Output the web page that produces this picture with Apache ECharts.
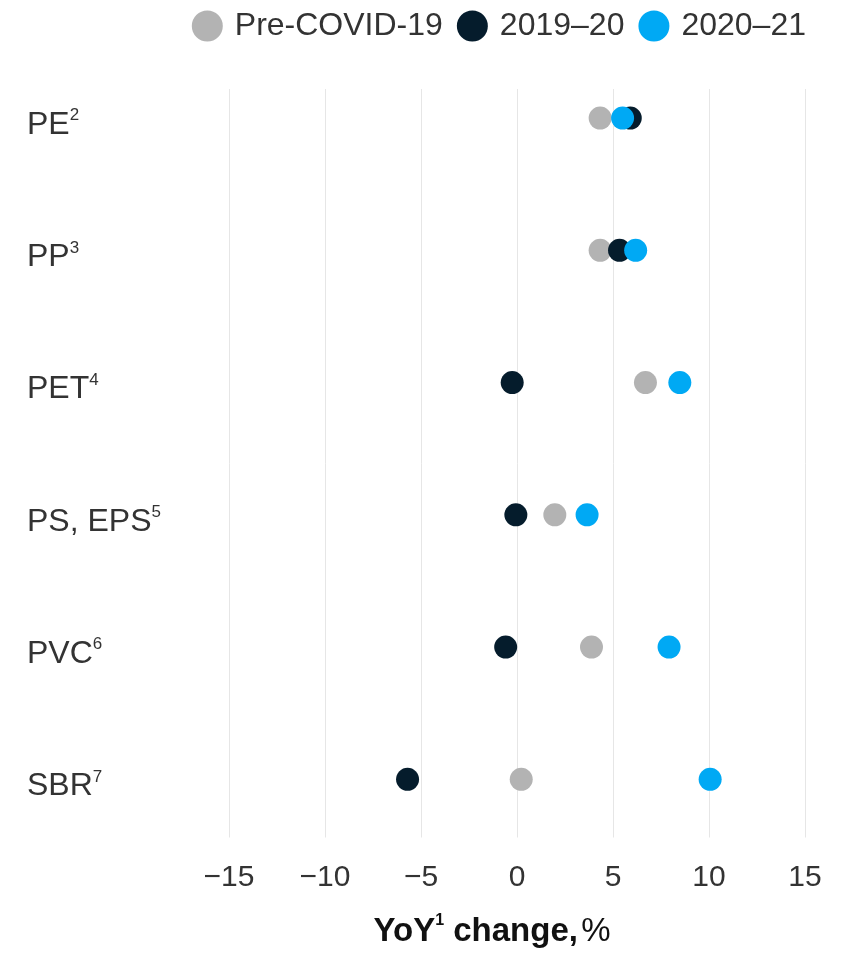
<!DOCTYPE html>
<html>
<head>
<meta charset="utf-8">
<script src="https://cdn.jsdelivr.net/npm/echarts@6/dist/echarts.min.js"></script>
<style>
  html, body { margin: 0; padding: 0; background: #fff; }
  #chart { width: 851px; height: 953px; }
</style>
</head>
<body>
<div id="chart"></div>
<script>
const categories = ["PE", "PP", "PET", "PS, EPS", "PVC", "SBR"];
const footnotes = ["2", "3", "4", "5", "6", "7"];
const seriesNames = ["Pre-COVID-19", "2019–20", "2020–21"];
const preCovid = [4.33, 4.33, 6.69, 1.97, 3.88, 0.22];
const y2019 = [5.9, 5.34, -0.25, -0.06, -0.59, -5.7];
const y2020 = [5.5, 6.18, 8.48, 3.65, 7.92, 10.06];
const colors = ["#b3b3b3", "#051c2c", "#00a9f4"];

const font = "'Liberation Sans', Arial, sans-serif";
const chart = echarts.init(document.querySelector("#chart"));

// rows sit on a value axis so the grid lines can run a bit past the first/last row
const toPoints = values => values.map((v, i) => [v, i]);
const rowIndex = categories.map((c, i) => i);

chart.setOption({
  animation: false,
  textStyle: { fontFamily: font },
  legend: {
    top: 5,
    right: 40,
    itemWidth: 31,
    itemHeight: 31,
    itemGap: 14,
    icon: "circle",
    textStyle: { fontSize: 32, color: "#333", fontFamily: font, padding: [0, 0, 0, 7] },
    data: seriesNames
  },
  grid: { left: 229, right: 46, top: 89, bottom: 111 },
  xAxis: {
    type: "value",
    min: -15,
    max: 15,
    interval: 5,
    axisLine: { show: false },
    axisTick: { show: false },
    splitLine: { show: true, lineStyle: { color: "#e6e6e6", width: 1 } },
    axisLabel: {
      fontSize: 30,
      color: "#333",
      margin: 25,
      formatter: v => String(v).replace("-", "−")
    },
    name: "{b|YoY}{s|1}{b| change,} {n|%}",
    nameLocation: "middle",
    nameGap: 75,
    nameTextStyle: {
      padding: [0, 50, 0, 0],
      rich: {
        b: { fontSize: 33, fontWeight: "bold", color: "#111", fontFamily: font, lineHeight: 38 },
        s: { fontSize: 16, fontWeight: "bold", color: "#111", fontFamily: font, verticalAlign: "top", lineHeight: 38 },
        n: { fontSize: 33, color: "#111", fontFamily: font, lineHeight: 38 }
      }
    }
  },
  yAxis: {
    type: "value",
    inverse: true,
    min: -0.22,
    max: 5.44,
    axisLine: { show: false },
    axisTick: { show: false },
    splitLine: { show: false },
    axisLabel: {
      customValues: rowIndex,
      align: "left",
      margin: 202,
      padding: [14, 0, 0, 0],
      formatter: v => `{a|${categories[v]}}{s|${footnotes[v]}}`,
      rich: {
        a: { fontSize: 32, color: "#333", fontFamily: font, lineHeight: 36 },
        s: { fontSize: 17, color: "#333", fontFamily: font, verticalAlign: "top", lineHeight: 36 }
      }
    }
  },
  series: [preCovid, y2019, y2020].map((vals, i) => ({
    name: seriesNames[i],
    type: "scatter",
    symbol: "circle",
    symbolSize: 23,
    itemStyle: { color: colors[i], opacity: 1 },
    z: 2 + i,
    data: toPoints(vals)
  }))
});
</script>
</body>
</html>
